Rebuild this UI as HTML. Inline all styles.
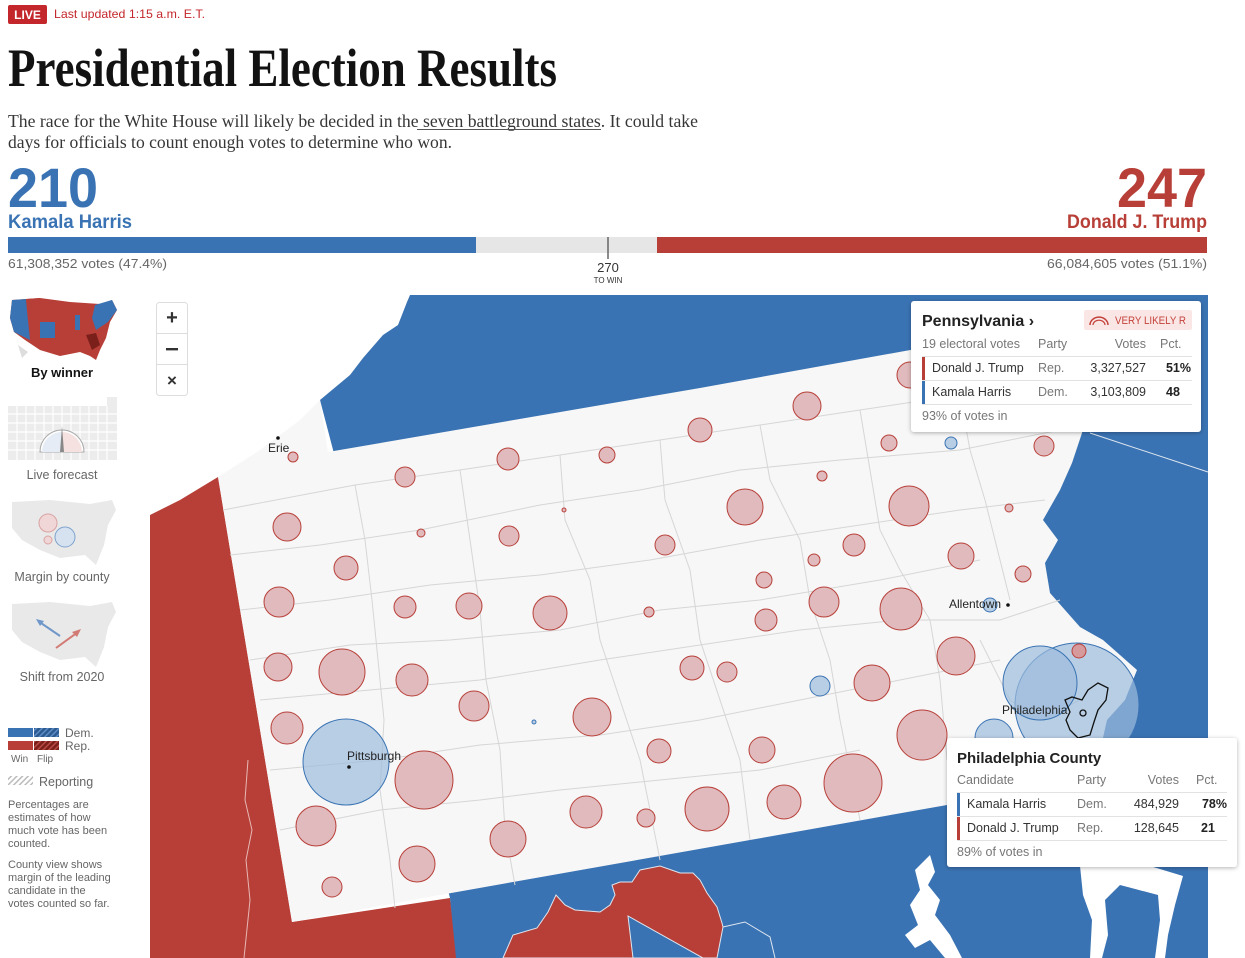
<!DOCTYPE html>
<html><head><meta charset="utf-8"><style>
html,body{margin:0;padding:0;background:#fff;width:1245px;height:958px;overflow:hidden}
svg{display:block}
.s{font-family:"Liberation Sans",Arial,sans-serif}
.r{font-family:"Liberation Serif",serif}
</style></head><body>
<svg width="1245" height="958" viewBox="0 0 1245 958" xmlns="http://www.w3.org/2000/svg">
<defs>
<pattern id="hb" width="4" height="4" patternUnits="userSpaceOnUse" patternTransform="rotate(45)"><rect width="4" height="4" fill="#2c5a8f"/><rect width="1.5" height="4" fill="#5b8cc7"/></pattern>
<pattern id="hr" width="4" height="4" patternUnits="userSpaceOnUse" patternTransform="rotate(45)"><rect width="4" height="4" fill="#7a1f1a"/><rect width="1.5" height="4" fill="#b84a43"/></pattern>
<pattern id="hg" width="4" height="4" patternUnits="userSpaceOnUse" patternTransform="rotate(45)"><rect width="4" height="4" fill="#fff"/><rect width="1.5" height="4" fill="#bbb"/></pattern>
<filter id="sh" x="-10%" y="-10%" width="120%" height="130%"><feDropShadow dx="0" dy="1" stdDeviation="2" flood-opacity="0.3"/></filter>
</defs>

<!-- header -->
<rect x="8" y="5" width="39" height="19" rx="2" fill="#c3272b"/>
<text x="27.5" y="19" class="s" font-size="12" font-weight="bold" fill="#fff" text-anchor="middle">LIVE</text>
<text x="54" y="18" class="s" font-size="12" fill="#c3272b" textLength="151" lengthAdjust="spacingAndGlyphs">Last updated 1:15 a.m. E.T.</text>
<text x="8" y="86" class="r" font-size="54" font-weight="bold" fill="#121212" textLength="549" lengthAdjust="spacingAndGlyphs">Presidential Election Results</text>
<text x="8" y="127" class="r" font-size="17.5" fill="#363636" textLength="690" lengthAdjust="spacingAndGlyphs">The race for the White House will likely be decided in the seven battleground states. It could take</text>
<line x1="417" y1="129.5" x2="601" y2="129.5" stroke="#555" stroke-width="1"/>
<text x="8" y="148" class="r" font-size="17.5" fill="#363636" textLength="444" lengthAdjust="spacingAndGlyphs">days for officials to count enough votes to determine who won.</text>

<text x="8" y="207" class="s" font-size="56" font-weight="bold" fill="#3a73b3" textLength="90" lengthAdjust="spacingAndGlyphs">210</text>
<text x="8" y="228" class="s" font-size="19" font-weight="bold" fill="#3a73b3" textLength="124" lengthAdjust="spacingAndGlyphs">Kamala Harris</text>
<text x="1207" y="207" class="s" font-size="56" font-weight="bold" fill="#b73f37" text-anchor="end" textLength="90" lengthAdjust="spacingAndGlyphs">247</text>
<text x="1207" y="228" class="s" font-size="19" font-weight="bold" fill="#b73f37" text-anchor="end" textLength="140" lengthAdjust="spacingAndGlyphs">Donald J. Trump</text>

<rect x="8" y="237" width="468" height="16" fill="#3a73b3"/>
<rect x="476" y="237" width="181" height="16" fill="#e6e6e6"/>
<rect x="657" y="237" width="550" height="16" fill="#b73f37"/>
<line x1="608" y1="237" x2="608" y2="259" stroke="#666" stroke-width="1.5"/>
<text x="8" y="268" class="s" font-size="13" fill="#666" textLength="159" lengthAdjust="spacingAndGlyphs">61,308,352 votes (47.4%)</text>
<text x="1207" y="268" class="s" font-size="13" fill="#666" text-anchor="end" textLength="160" lengthAdjust="spacingAndGlyphs">66,084,605 votes (51.1%)</text>
<text x="608" y="272" class="s" font-size="13" fill="#333" text-anchor="middle">270</text>
<text x="608" y="283" class="s" font-size="8" fill="#333" text-anchor="middle">TO WIN</text>

<!-- sidebar -->
<g>
<path d="M12 300 L40 298 L70 302 L100 304 L112 300 L117 310 L110 322 L106 338 L100 350 L96 360 L90 356 L80 352 L60 356 L40 350 L25 340 L14 332 L10 318 Z" fill="#b73f37"/>
<path d="M12 300 L26 299 L28 320 L30 340 L14 332 L10 318 Z" fill="#3a73b3"/>
<path d="M40 322 L55 322 L55 338 L40 338 Z" fill="#3a73b3"/>
<path d="M75 315 L80 315 L80 330 L75 330 Z" fill="#3a73b3"/>
<path d="M95 305 L112 300 L117 310 L108 322 L96 330 L92 318 Z" fill="#3a73b3"/>
<path d="M86 335 L96 333 L100 345 L92 350 Z" fill="#7a1f1a"/>
<path d="M26 299 L40 298 L38 312 L28 320 Z" fill="#b73f37"/>
<path d="M18 345 L28 352 L22 358 Z" fill="#ddd"/>
<text x="62" y="377" class="s" font-size="13" font-weight="bold" fill="#121212" text-anchor="middle">By winner</text>

<rect x="8" y="406" width="109" height="54" fill="#ececec"/>
<g stroke="#fff" stroke-width="1.2">
<line x1="8" y1="414" x2="117" y2="414"/><line x1="8" y1="423" x2="117" y2="423"/><line x1="8" y1="432" x2="117" y2="432"/><line x1="8" y1="441" x2="117" y2="441"/><line x1="8" y1="450" x2="117" y2="450"/>
<line x1="17" y1="406" x2="17" y2="460"/><line x1="26" y1="406" x2="26" y2="460"/><line x1="35" y1="406" x2="35" y2="460"/><line x1="44" y1="406" x2="44" y2="460"/><line x1="53" y1="406" x2="53" y2="460"/><line x1="62" y1="406" x2="62" y2="460"/><line x1="71" y1="406" x2="71" y2="460"/><line x1="80" y1="406" x2="80" y2="460"/><line x1="89" y1="406" x2="89" y2="460"/><line x1="98" y1="406" x2="98" y2="460"/><line x1="107" y1="406" x2="107" y2="460"/>
</g>
<rect x="107" y="397" width="10" height="9" fill="#ececec"/>
<path d="M40 452 A22 22 0 0 1 84 452 Z" fill="#fff" stroke="#aaa"/>
<path d="M42 452 A20 20 0 0 1 62 432 L62 452 Z" fill="#e5ecf5"/>
<path d="M62 432 A20 20 0 0 1 82 452 L62 452 Z" fill="#f5e2e0"/>
<path d="M60 452 L62 426 L64 452 Z" fill="#888"/>
<text x="62" y="479" class="s" font-size="12.5" fill="#666" text-anchor="middle">Live forecast</text>

<path d="M12 502 L50 500 L90 504 L112 500 L116 510 L108 525 L104 545 L96 565 L85 555 L60 558 L40 550 L22 540 L12 528 Z" fill="#e9e9e9"/>
<circle cx="48" cy="523" r="9" fill="#f0d6d6" stroke="#d9a3a3"/>
<circle cx="48" cy="540" r="4" fill="#f0d6d6" stroke="#d9a3a3"/>
<circle cx="65" cy="537" r="10" fill="#d6e2f0" stroke="#7ea3cc"/>
<text x="62" y="581" class="s" font-size="12.5" fill="#666" text-anchor="middle">Margin by county</text>

<path d="M12 604 L50 602 L90 606 L112 602 L116 612 L108 627 L104 647 L96 667 L85 657 L60 660 L40 652 L22 642 L12 630 Z" fill="#e9e9e9"/>
<line x1="60" y1="636" x2="38" y2="621" stroke="#6f97c9" stroke-width="2"/><path d="M36 619 L44 621 L40 626 Z" fill="#6f97c9"/>
<line x1="56" y1="648" x2="78" y2="632" stroke="#d27a74" stroke-width="2"/><path d="M81 629 L72 632 L77 637 Z" fill="#d27a74"/>
<text x="62" y="681" class="s" font-size="12.5" fill="#666" text-anchor="middle">Shift from 2020</text>

<rect x="8" y="728" width="25" height="9" fill="#3a73b3"/><rect x="34" y="728" width="25" height="9" fill="url(#hb)"/>
<rect x="8" y="741" width="25" height="9" fill="#b73f37"/><rect x="34" y="741" width="25" height="9" fill="url(#hr)"/>
<text x="65" y="737" class="s" font-size="12" fill="#666">Dem.</text>
<text x="65" y="750" class="s" font-size="12" fill="#666">Rep.</text>
<text x="11" y="762" class="s" font-size="10" fill="#666">Win</text>
<text x="37" y="762" class="s" font-size="10" fill="#666">Flip</text>
<rect x="8" y="776" width="25" height="9" fill="url(#hg)"/>
<text x="39" y="786" class="s" font-size="12.5" fill="#666">Reporting</text>
<g class="s" font-size="11" fill="#666">
<text x="8" y="808">Percentages are</text><text x="8" y="821">estimates of how</text><text x="8" y="834">much vote has been</text><text x="8" y="847">counted.</text>
<text x="8" y="868">County view shows</text><text x="8" y="881">margin of the leading</text><text x="8" y="894">candidate in the</text><text x="8" y="907">votes counted so far.</text>
</g>
</g>

<!-- map -->
<g>
<path d="M410 295 L1208 295 L1208 958 L455 958 L450 898 L320 400 L350 375 L363 358 L383 335 L398 325 L407 302 Z" fill="#3a73b3"/>
<path d="M150 515 L180 500 L218 477 L292 922 L450 898 L456 958 L150 958 Z" fill="#b73f37"/>
<path d="M248 760 L245 800 L252 830 L246 860 L250 900 L244 958" fill="none" stroke="#e8b8b4" stroke-width="1"/>
<path d="M503 958 L513 935 L537 928 L548 912 L556 895 L565 905 L575 910 L600 912 L610 905 L615 895 L612 885 L620 882 L632 882 L640 870 L660 866 L680 873 L693 873 L700 880 L707 893 L717 907 L722 923 L723 927 L717 958 Z" fill="#b73f37" stroke="#dfe6ef" stroke-width="1"/>
<path d="M628 916 L703 958 L633 958 Z" fill="#3a73b3" stroke="#dfe6ef" stroke-width="1"/>
<path d="M723 927 L745 922 L770 937 L775 958" fill="none" stroke="#dfe6ef" stroke-width="1"/>
<!-- bays white -->
<path d="M930 855 L935 872 L928 885 L940 900 L935 915 L950 935 L962 958 L945 958 L930 940 L915 948 L905 935 L918 925 L910 905 L920 890 L915 870 Z" fill="#fff"/>
<path d="M1080 866 L1150 866 L1183 876 L1175 905 L1168 935 L1165 958 L1155 958 L1160 920 L1158 895 L1120 885 L1105 900 L1108 935 L1102 958 L1090 958 L1092 920 L1083 895 Z" fill="#fff"/>
<line x1="1090" y1="433" x2="1208" y2="472" stroke="#dfe6ef" stroke-width="1"/>
<!-- PA land -->
<path d="M218 477 L260 450 L300 420 L320 400 L328 452 L700 388 L1065 322 L1090 360 L1082 433 L1072 463 L1060 490 L1043 520 L1058 540 L1045 563 L1050 593 L1080 627 L1103 640 L1137 670 L1125 700 L1107 720 L1098 760 L1085 790 L1020 792 L947 805 L750 840 L440 895 L292 922 Z" fill="#f7f7f7"/>
<g fill="none" stroke="#d6d6d6" stroke-width="1">
<path d="M223 510 L355 485 L460 470 L560 455 L660 440 L760 425 L860 410 L960 395 L1065 380"/>
<path d="M230 555 L320 545 L420 530 L540 505 L640 490 L740 470 L840 460 L960 450 L1060 430"/>
<path d="M240 610 L330 600 L430 585 L540 575 L650 560 L760 540 L860 525 L960 510 L1045 500"/>
<path d="M250 660 L350 645 L450 640 L560 630 L660 610 L760 600 L880 580 L980 560"/>
<path d="M260 700 L370 690 L480 680 L600 660 L700 645 L800 630 L900 620 L1000 620 L1060 600"/>
<path d="M270 770 L380 760 L480 745 L600 735 L700 720 L800 700 L900 680 L1000 660"/>
<path d="M280 830 L380 810 L480 800 L560 790 L660 780 L760 770 L860 750"/>
<path d="M355 485 L365 540 L372 600 L378 660 L384 720 L380 790 L390 860 L395 908"/>
<path d="M460 470 L470 540 L480 610 L486 680 L500 750 L505 830 L515 885"/>
<path d="M560 455 L565 520 L590 580 L600 640 L620 700 L640 760 L660 860"/>
<path d="M660 440 L665 500 L690 570 L700 640 L720 700 L740 760 L750 840"/>
<path d="M760 425 L770 480 L800 540 L810 600 L830 660 L840 720 L860 820"/>
<path d="M860 410 L870 470 L880 530 L900 570 L930 620 L940 680 L947 760"/>
<path d="M960 395 L970 450 L985 500 L1000 560 L1010 600"/>
<path d="M980 640 L1010 700 L1040 720 L1080 700"/>
</g>
<g fill="#e0babc" stroke="#b8403a" stroke-width="1">
<circle cx="293" cy="457" r="5"/><circle cx="405" cy="477" r="10"/><circle cx="508" cy="459" r="11"/><circle cx="607" cy="455" r="8"/>
<circle cx="700" cy="430" r="12"/><circle cx="807" cy="406" r="14"/><circle cx="910" cy="375" r="13"/><circle cx="889" cy="443" r="8"/>
<circle cx="1044" cy="446" r="10"/><circle cx="287" cy="527" r="14"/><circle cx="421" cy="533" r="4"/><circle cx="509" cy="536" r="10"/>
<circle cx="564" cy="510" r="2"/><circle cx="665" cy="545" r="10"/><circle cx="745" cy="507" r="18"/><circle cx="822" cy="476" r="5"/>
<circle cx="909" cy="506" r="20"/><circle cx="1009" cy="508" r="4"/><circle cx="961" cy="556" r="13"/><circle cx="854" cy="545" r="11"/>
<circle cx="814" cy="560" r="6"/><circle cx="1023" cy="574" r="8"/><circle cx="346" cy="568" r="12"/><circle cx="764" cy="580" r="8"/>
<circle cx="279" cy="602" r="15"/><circle cx="405" cy="607" r="11"/><circle cx="469" cy="606" r="13"/><circle cx="550" cy="613" r="17"/>
<circle cx="649" cy="612" r="5"/><circle cx="766" cy="620" r="11"/><circle cx="824" cy="602" r="15"/><circle cx="901" cy="609" r="21"/>
<circle cx="278" cy="667" r="14"/><circle cx="342" cy="672" r="23"/><circle cx="412" cy="680" r="16"/><circle cx="692" cy="668" r="12"/>
<circle cx="727" cy="672" r="10"/><circle cx="872" cy="683" r="18"/><circle cx="956" cy="656" r="19"/>
<circle cx="287" cy="728" r="16"/><circle cx="474" cy="706" r="15"/><circle cx="592" cy="717" r="19"/><circle cx="659" cy="751" r="12"/>
<circle cx="762" cy="750" r="13"/><circle cx="922" cy="735" r="25"/><circle cx="424" cy="780" r="29"/><circle cx="508" cy="839" r="18"/>
<circle cx="586" cy="812" r="16"/><circle cx="646" cy="818" r="9"/><circle cx="707" cy="809" r="22"/><circle cx="784" cy="802" r="17"/>
<circle cx="853" cy="783" r="29"/><circle cx="316" cy="826" r="20"/><circle cx="417" cy="864" r="18"/><circle cx="332" cy="887" r="10"/>
</g>
<g fill="#9dbcdd" fill-opacity="0.7" stroke="#3a73b3" stroke-width="1">
<circle cx="951" cy="443" r="6"/><circle cx="990" cy="605" r="7"/><circle cx="820" cy="686" r="10"/><circle cx="534" cy="722" r="2"/>
<circle cx="346" cy="762" r="43"/>
<circle cx="994" cy="738" r="19"/>
<circle cx="1077" cy="705" r="62"/>
<circle cx="1040" cy="683" r="37"/>
<circle cx="1049" cy="780" r="31"/>
</g>
<circle cx="1079" cy="651" r="7" fill="#d69a9c" stroke="#b8403a"/>
<path d="M1065 700 L1072 697 L1082 700 L1088 690 L1098 683 L1108 688 L1106 700 L1098 710 L1094 722 L1090 735 L1078 738 L1070 730 L1066 720 L1070 712 Z" fill="none" stroke="#111" stroke-width="1.3"/>
<circle cx="278" cy="438" r="1.8" fill="#111"/>
<text x="268" y="452" class="s" font-size="12" fill="#222">Erie</text>
<circle cx="349" cy="767" r="1.8" fill="#111"/>
<text x="347" y="760" class="s" font-size="12" fill="#222">Pittsburgh</text>
<circle cx="1008" cy="605" r="1.8" fill="#111"/>
<text x="949" y="608" class="s" font-size="12" fill="#222">Allentown</text>
<circle cx="1083" cy="713" r="3" fill="none" stroke="#111" stroke-width="1.3"/>
<text x="1002" y="714" class="s" font-size="12" fill="#222">Philadelphia</text>
</g>

<rect x="156.5" y="302.5" width="31" height="93" rx="3" fill="#fff" stroke="#ddd"/>
<line x1="157" y1="333.5" x2="187" y2="333.5" stroke="#ddd"/><line x1="157" y1="364.5" x2="187" y2="364.5" stroke="#ddd"/>
<text x="172" y="324" class="s" font-size="20" font-weight="bold" fill="#333" text-anchor="middle">+</text>
<rect x="166" y="348" width="12" height="2.4" fill="#333"/>
<text x="172" y="386" class="s" font-size="17" font-weight="bold" fill="#333" text-anchor="middle">×</text>

<rect x="911" y="301" width="290" height="131" rx="3" fill="#fff" filter="url(#sh)"/>
<text x="922" y="326" class="s" font-size="16" font-weight="bold" fill="#222">Pennsylvania ›</text>
<rect x="1084" y="310" width="108" height="20" rx="2" fill="#fbe6e6"/>
<path d="M1090 325 A8 7 0 0 1 1108 325" fill="none" stroke="#c3423a" stroke-width="1.5"/>
<path d="M1093 325 A5 4 0 0 1 1105 325" fill="none" stroke="#c3423a" stroke-width="1.2"/>
<text x="1115" y="324" class="s" font-size="11" fill="#c3423a" textLength="71" lengthAdjust="spacingAndGlyphs">VERY LIKELY R</text>
<g class="s" font-size="12.5" fill="#777">
<text x="922" y="348">19 electoral votes</text><text x="1038" y="348">Party</text>
<text x="1146" y="348" text-anchor="end">Votes</text><text x="1160" y="348">Pct.</text>
</g>
<line x1="922" y1="356.5" x2="1192" y2="356.5" stroke="#e2e2e2"/>
<rect x="922" y="357" width="3" height="23" fill="#b73f37"/>
<line x1="922" y1="380.5" x2="1192" y2="380.5" stroke="#e2e2e2"/>
<rect x="922" y="381" width="3" height="23" fill="#3a73b3"/>
<line x1="922" y1="404.5" x2="1192" y2="404.5" stroke="#e2e2e2"/>
<g class="s" font-size="12.5">
<text x="932" y="372" fill="#333">Donald J. Trump</text><text x="1038" y="372" fill="#777">Rep.</text>
<text x="1146" y="372" fill="#333" text-anchor="end">3,327,527</text><text x="1191" y="372" fill="#222" font-weight="bold" text-anchor="end">51%</text>
<text x="932" y="396" fill="#333">Kamala Harris</text><text x="1038" y="396" fill="#777">Dem.</text>
<text x="1146" y="396" fill="#333" text-anchor="end">3,103,809</text><text x="1166" y="396" fill="#222" font-weight="bold">48</text>
<text x="922" y="420" fill="#777">93% of votes in</text>
</g>

<rect x="947" y="738" width="290" height="129" rx="3" fill="#fff" filter="url(#sh)"/>
<text x="957" y="763" class="s" font-size="15" font-weight="bold" fill="#222">Philadelphia County</text>
<g class="s" font-size="12.5" fill="#777">
<text x="957" y="784">Candidate</text><text x="1077" y="784">Party</text>
<text x="1179" y="784" text-anchor="end">Votes</text><text x="1196" y="784">Pct.</text>
</g>
<line x1="957" y1="792.5" x2="1227" y2="792.5" stroke="#e2e2e2"/>
<rect x="957" y="793" width="3" height="23" fill="#3a73b3"/>
<line x1="957" y1="816.5" x2="1227" y2="816.5" stroke="#e2e2e2"/>
<rect x="957" y="817" width="3" height="23" fill="#b73f37"/>
<line x1="957" y1="840.5" x2="1227" y2="840.5" stroke="#e2e2e2"/>
<g class="s" font-size="12.5">
<text x="967" y="808" fill="#333">Kamala Harris</text><text x="1077" y="808" fill="#777">Dem.</text>
<text x="1179" y="808" fill="#333" text-anchor="end">484,929</text><text x="1227" y="808" fill="#222" font-weight="bold" text-anchor="end">78%</text>
<text x="967" y="832" fill="#333">Donald J. Trump</text><text x="1077" y="832" fill="#777">Rep.</text>
<text x="1179" y="832" fill="#333" text-anchor="end">128,645</text><text x="1201" y="832" fill="#222" font-weight="bold">21</text>
<text x="957" y="856" fill="#777">89% of votes in</text>
</g>
</svg>
</body></html>
